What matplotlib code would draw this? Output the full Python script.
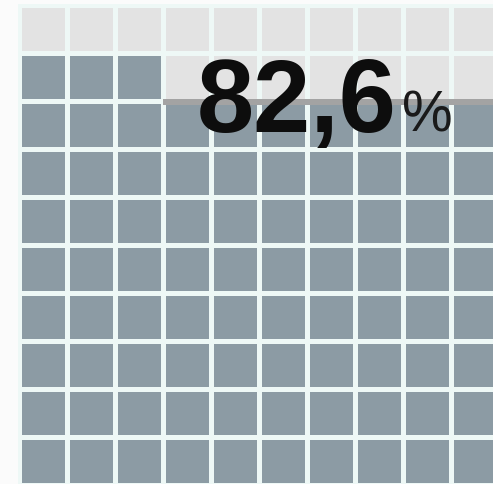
import numpy as np
import matplotlib.pyplot as plt
from matplotlib.patches import Rectangle

# -- data --
share = 82.6          # percent shown in the headline
n_rows = 10
n_cols = 10
value_label = "82,6"
unit_label = "%"

# -- layout (pixel units) --
W, H = 493, 484
x0, y0 = 22, 8        # top-left of first cell
pitch = 48
cell = 43

col_fill = "#8c9ba4"
col_empty = "#e3e3e3"
col_grid = "#eef8f6"

n_filled = int(round(share / 100 * n_rows * n_cols))

fig = plt.figure(figsize=(W / 100, H / 100), dpi=100)
fig.patch.set_facecolor("#fbfbfb")
ax = fig.add_axes([0, 0, 1, 1])
ax.set_xlim(0, W)
ax.set_ylim(H, 0)
ax.axis("off")

# grid background (the thin gaps between cells)
ax.add_patch(Rectangle((x0 - 4, y0 - 4), n_cols * pitch + 10, n_rows * pitch + 10,
                       facecolor=col_grid, edgecolor="none", zorder=0))

# cells fill from the bottom row upward, left to right
k = 0
for r in range(n_rows - 1, -1, -1):
    for c in range(n_cols):
        filled = k < n_filled
        k += 1
        ax.add_patch(Rectangle((x0 + c * pitch, y0 + r * pitch), cell, cell,
                               facecolor=col_fill if filled else col_empty,
                               edgecolor="none", zorder=1))

# soft shadow under the label panel
ax.add_patch(Rectangle((x0 + 3 * pitch - 3, y0 + 2 * pitch - 5), W, 6,
                       facecolor="#a3a3a3", edgecolor="none", zorder=2))

ax.text(297, 132, value_label, fontsize=74, fontweight="bold",
        family=["Liberation Sans", "DejaVu Sans"], color="#0d0d0d",
        ha="center", va="baseline", zorder=3)
ax.text(402, 132, unit_label, fontsize=41, fontweight="normal",
        family=["Liberation Sans", "DejaVu Sans"], color="#1a1a1a",
        ha="left", va="baseline", zorder=3)

fig.savefig("out.png", dpi=100)
